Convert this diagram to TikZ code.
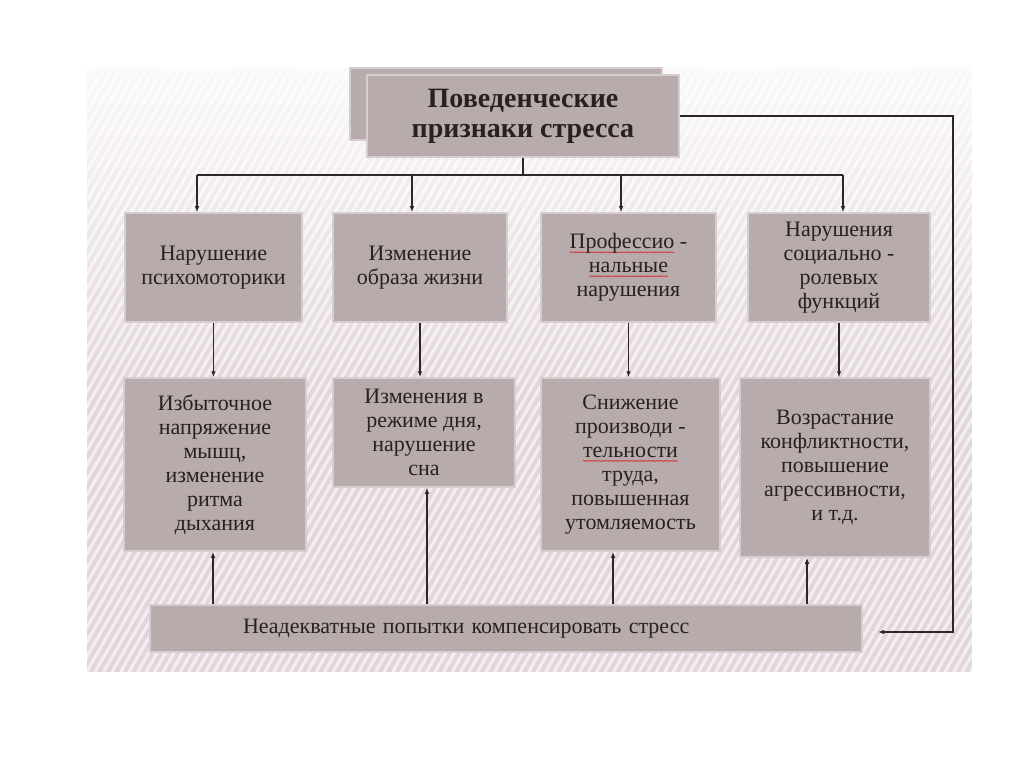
\documentclass[tikz,border=0pt]{standalone}
\usepackage{fontspec}
\setmainfont{Liberation Serif}
\usetikzlibrary{arrows.meta,positioning,calc,decorations.pathmorphing}
\definecolor{psBox}{HTML}{B7ABAC}
\definecolor{psEdge}{HTML}{D6CDD0}
\definecolor{psText}{HTML}{2B2020}
\definecolor{psLine}{HTML}{2E2626}
\definecolor{psPanel}{HTML}{E2D6DC}
\definecolor{psErr}{HTML}{D0302F}
\newlength{\errw}
\newcommand{\spellerr}[1]{\settowidth{\errw}{#1}\rlap{\tikz[overlay]\draw[psErr, line width=.6pt, decorate, decoration={snake, amplitude=.6pt, segment length=2.6pt}] (0pt,-3.5pt) -- (\errw,-3.5pt);}#1}

\begin{document}
\begin{tikzpicture}[x=1pt, y=-1pt,
  pBox/.style   ={rectangle, draw=psEdge, line width=1.5pt, fill=psBox, text=psText, font=\fontsize{22}{24}\selectfont, align=center, inner sep=2pt},
  pTitle/.style ={pBox, font=\fontsize{28}{30}\selectfont\bfseries},
  pArrow/.style ={draw=psLine, line width=1.1pt, -{Latex[length=6pt,width=4.5pt]}},
  pLine/.style  ={draw=psLine, line width=1.1pt},
  pStripe/.style={white, line width=3.2pt, opacity=.6},
]
\useasboundingbox (0,0) rectangle (1024,767);
\fill[white] (0,0) rectangle (1024,767);
% striped panel
\fill[psPanel] (87,68) rectangle (972,672);
\begin{scope}
  \clip (87,68) rectangle (972,672);
  \foreach \i in {0,...,146}
    \draw[pStripe] ({-262+8.5*\i},672) -- ++(349,-604);
\end{scope}
% paler upper part
\foreach \k in {0,...,31}
  \fill[white, fill opacity={0.85*(1-\k/32)}] (87,{68+10*\k}) rectangle (972,{78+10*\k});

% title
\node[pBox, minimum width=312pt, minimum height=72pt] (tb) at (506,104) {};
\node[pTitle, minimum width=312pt, minimum height=82pt] (tt) at (523,116) {Поведенческие\\признаки стресса};

% first row
\node[pBox, minimum width=177pt, minimum height=109pt] (n11) at (213.5,267.5) {Нарушение\\психомоторики};
\node[pBox, minimum width=174pt, minimum height=109pt] (n12) at (420,267.5) {Изменение\\образа жизни};
\node[pBox, minimum width=175pt, minimum height=109pt] (n13) at (628.5,267.5) {\spellerr{Профессио} -\\\spellerr{нальные}\\нарушения};
\node[pBox, minimum width=182pt, minimum height=109pt] (n14) at (839,267.5) {Нарушения\\социально -\\ролевых\\функций};

% second row
\node[pBox, minimum width=182pt, minimum height=173pt] (n21) at (215,464.5) {Избыточное\\напряжение\\мышц,\\изменение\\ритма\\дыхания};
\node[pBox, minimum width=182pt, minimum height=109pt] (n22) at (424,432.5) {Изменения в\\режиме дня,\\нарушение\\сна};
\node[pBox, minimum width=179pt, minimum height=173pt] (n23) at (630.5,464.5) {Снижение\\производи -\\\spellerr{тельности}\\труда,\\повышенная\\утомляемость};
\node[pBox, minimum width=190pt, minimum height=179pt] (n24) at (835,467.5) {Возрастание\\конфликтности,\\повышение\\агрессивности,\\и т.д.};

% bottom
\node[pBox, minimum width=712pt, minimum height=47pt, text width=526pt, inner xsep=93pt, align=left] (nb) at (506,628.5) {Неадекватные попытки компенсировать стресс};

% connectors
\coordinate (bus) at (523,175);
\coordinate (b1) at (197,175);
\coordinate (b2) at (412,175);
\coordinate (b3) at (621,175);
\coordinate (b4) at (843,175);
\draw[pLine] (tt.south) -- (bus);
\draw[pLine] (b1) -- (b4);
\foreach \b/\n in {b1/n11, b2/n12, b3/n13, b4/n14}
  \draw[pArrow] (\b) -- (\b |- \n.north);
\foreach \a/\n in {n11/n21, n12/n22, n13/n23, n14/n24}
  \draw[pArrow] (\a.south) -- (\a.south |- \n.north);
\coordinate (u1) at (213,628);
\coordinate (u2) at (427,628);
\coordinate (u3) at (613,628);
\coordinate (u4) at (807,628);
\foreach \u/\n in {u1/n21, u2/n22, u3/n23, u4/n24}
  \draw[pArrow] (\u |- nb.north) -- (\u |- \n.south);
\coordinate (rc) at (953,632);
\coordinate (re) at (878,632);
\draw[pArrow] (tt.east) -| (rc) -- (re);
\end{tikzpicture}
\end{document}
